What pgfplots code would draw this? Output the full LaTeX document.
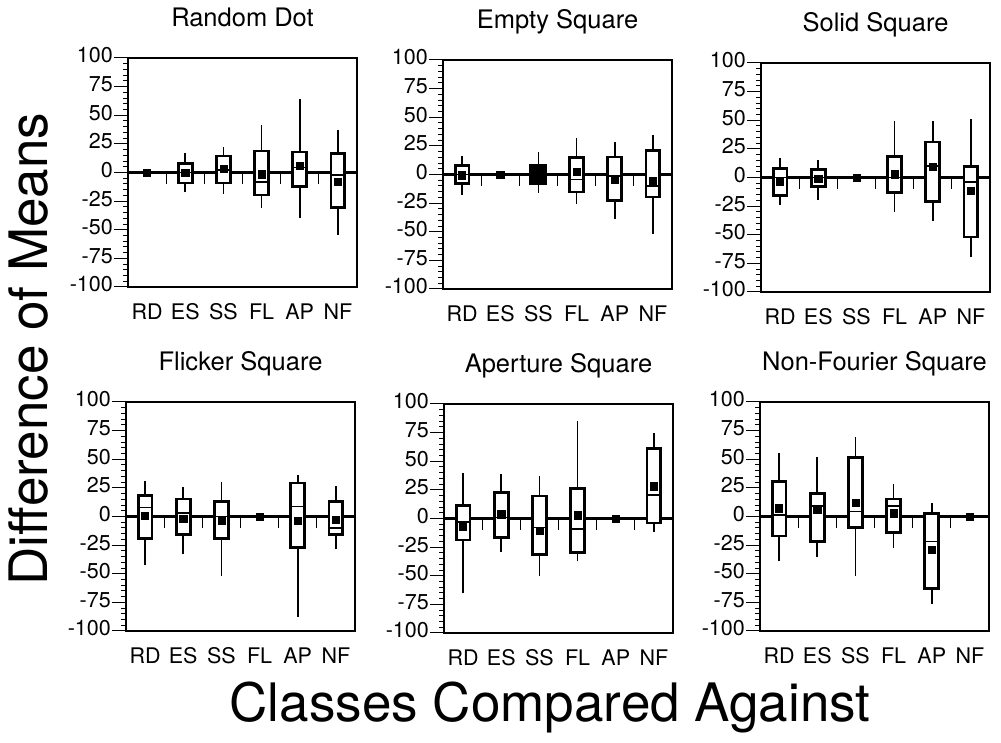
\documentclass[border=0pt]{standalone}
\usepackage{fontspec}
\setmainfont{TeX Gyre Heros}
\usepackage{pgfplots}
\pgfplotsset{compat=1.18}

\pgfplotsset{
  panel/.style={
    scale only axis, width=229pt, height=229pt,
    xmin=-0.5, xmax=5.5, ymin=-100, ymax=100,
    xtick={0,...,5}, xticklabels={RD,ES,SS,FL,AP,NF},
    ytick={-100,-75,...,100}, minor y tick num=4,
    tick align=outside, ytick pos=left, xtick pos=bottom,
    x tick style={draw=none},
    major tick length=14pt, minor tick length=5pt,
    y tick style={line width=1pt, black},
    tick label style={font=\fontsize{21.5}{25}\selectfont},
    yticklabel style={inner sep=1pt},
    typeset ticklabels with strut,
    xticklabel style={yshift=3pt},
    axis line style={line width=2.2pt},
    title style={font=\fontsize{25.5}{30}\selectfont, at={(0.5,1)}, anchor=base, yshift=25pt},
    /pgf/number format/assume math mode=true,
    clip=false,
  },
}
\newcommand{\ZL}{%
  \addplot[line width=2.5pt, black, mark=none] coordinates {(-0.5,0) (5.5,0)};
  \addplot[ycomb, line width=1.3pt, black, mark=none] coordinates {(0.5,-10) (1.5,-10) (2.5,-10) (3.5,-10) (4.5,-10)};
}
% #1 left, #2 centre, #3 right, #4 lower whisker, #5 lower quartile, #6 median, #7 upper quartile, #8 upper whisker
\newcommand{\BX}[8]{%
  \addplot[line width=1.6pt, black, mark=none] coordinates {(#2,#4) (#2,#8)};
  \addplot[line width=2.8pt, black, fill=white, mark=none, line join=miter] coordinates {(#1,#5) (#3,#5) (#3,#7) (#1,#7)} -- cycle;
  \addplot[line width=1.8pt, black, mark=none] coordinates {(#1,#6) (#3,#6)};
}

\begin{document}
\begin{tikzpicture}
\useasboundingbox (0pt,0pt) rectangle (1001pt,743pt);

% Random Dot
\begin{axis}[panel, at={(128pt,456pt)}, anchor=south west, title={Random Dot}]
\ZL
\BX{0.82}{1}{1.18}{-17.3}{-9.2}{0}{7.8}{17.3}
\BX{1.82}{2}{2.18}{-18.7}{-9.2}{2}{14.4}{22.5}
\BX{2.82}{3}{3.18}{-31}{-19.6}{-8}{18.7}{41.8}
\BX{3.82}{4}{4.18}{-40}{-12.4}{4.3}{17.9}{64}
\BX{4.82}{5}{5.18}{-54.8}{-30.3}{-2.3}{16.4}{37.5}
\addplot[only marks, mark=square*, mark size=3.6pt, black] coordinates {(0,0) (1,-0.5) (2,3.5) (3,-1.5) (4,5.8) (5,-7.8)};
\end{axis}

% Empty Square
\begin{axis}[panel, at={(443pt,454pt)}, anchor=south west, title={Empty Square}]
\ZL
\BX{-0.18}{0}{0.18}{-17.9}{-7.8}{0}{8.1}{16.4}
\addplot[line width=1.6pt, black, mark=none] coordinates {(2,-15.9) (2,19.3)};
\addplot[line width=2.8pt, black, fill=black, mark=none, line join=miter] coordinates {(1.8,-8) (2.2,-8) (2.2,7.8) (1.8,7.8)} -- cycle;
\BX{2.82}{3}{3.18}{-26}{-15.3}{-4.3}{15}{32.3}
\BX{3.82}{4}{4.18}{-39}{-23}{-1.4}{15.3}{28.8}
\BX{4.82}{5}{5.18}{-52}{-19.6}{-10}{20.7}{34.6}
\addplot[only marks, mark=square*, mark size=3.6pt, black] coordinates {(0,-0.6) (1,-0.3) (2,0) (3,2.3) (4,-4.3) (5,-5.8)};
\end{axis}

% Solid Square
\begin{axis}[panel, at={(761pt,451pt)}, anchor=south west, title={Solid Square}]
\ZL
\BX{-0.18}{0}{0.18}{-24}{-16}{0}{7.8}{17.4}
\BX{0.82}{1}{1.18}{-19.7}{-8.1}{0}{6.7}{15}
\BX{2.82}{3}{3.18}{-30.4}{-13}{0}{18}{49.3}
\BX{3.82}{4}{4.18}{-37.7}{-21}{10}{31}{49.3}
\BX{4.82}{5}{5.18}{-69.6}{-52}{-3.8}{9.3}{51.3}
\addplot[only marks, mark=square*, mark size=3.6pt, black] coordinates {(0,-3.8) (1,-1.4) (2,0) (3,2.9) (4,9.3) (5,-11.6)};
\end{axis}

% Flicker Square
\begin{axis}[panel, at={(126pt,112pt)}, anchor=south west, title={Flicker Square}]
\ZL
\BX{-0.18}{0}{0.18}{-42.4}{-19}{7.9}{18.4}{30.7}
\BX{0.82}{1}{1.18}{-33}{-16}{2.9}{15.2}{25.4}
\BX{1.82}{2}{2.18}{-51.8}{-19}{0}{13.2}{29.8}
\BX{3.82}{4}{4.18}{-87.7}{-27}{8.8}{29.2}{36.5}
\BX{4.82}{5}{5.18}{-28.7}{-15.5}{-10.2}{13.2}{27}
\addplot[only marks, mark=square*, mark size=3.6pt, black] coordinates {(0,0.6) (1,-2) (2,-3.5) (3,0) (4,-3.5) (5,-2.9)};
\end{axis}

% Aperture Square
\begin{axis}[panel, at={(444pt,110pt)}, anchor=south west, title={Aperture Square}]
\ZL
\BX{-0.18}{0}{0.18}{-65.4}{-18.7}{-2.9}{11.5}{39.8}
\BX{0.82}{1}{1.18}{-29.4}{-16.4}{0.9}{22.5}{38.9}
\BX{1.82}{2}{2.18}{-50}{-31.7}{-7.8}{19.6}{37.5}
\BX{2.82}{3}{3.18}{-37.5}{-29.4}{-9.2}{26}{85.3}
\BX{4.82}{5}{5.18}{-11.5}{-4}{20.5}{61.4}{75}
\addplot[only marks, mark=square*, mark size=3.6pt, black] coordinates {(0,-6.9) (1,3.7) (2,-10.7) (3,2.9) (4,0) (5,28.2)};
\end{axis}

% Non-Fourier Square
\begin{axis}[panel, at={(760pt,112pt)}, anchor=south west, title={Non-Fourier Square}]
\ZL
\BX{-0.18}{0}{0.18}{-38.9}{-17}{1.5}{30.7}{55.6}
\BX{0.82}{1}{1.18}{-35}{-21.9}{9.4}{19.9}{51.8}
\BX{1.82}{2}{2.18}{-52}{-9.6}{4.4}{51.8}{69.6}
\BX{2.82}{3}{3.18}{-27.8}{-13.7}{9.4}{15.2}{28.4}
\BX{3.82}{4}{4.18}{-76}{-62.9}{-21.9}{2.9}{11.7}
\addplot[only marks, mark=square*, mark size=3.6pt, black] coordinates {(0,7.3) (1,5.8) (2,11.7) (3,2.9) (4,-29.2) (5,0)};
\end{axis}

\node[rotate=90, font=\fontsize{53}{60}\selectfont] at (28pt,394pt) {Difference of Means};
\node[anchor=base, font=\fontsize{53}{60}\selectfont] at (550pt,21pt) {Classes Compared Against};
\end{tikzpicture}
\end{document}
